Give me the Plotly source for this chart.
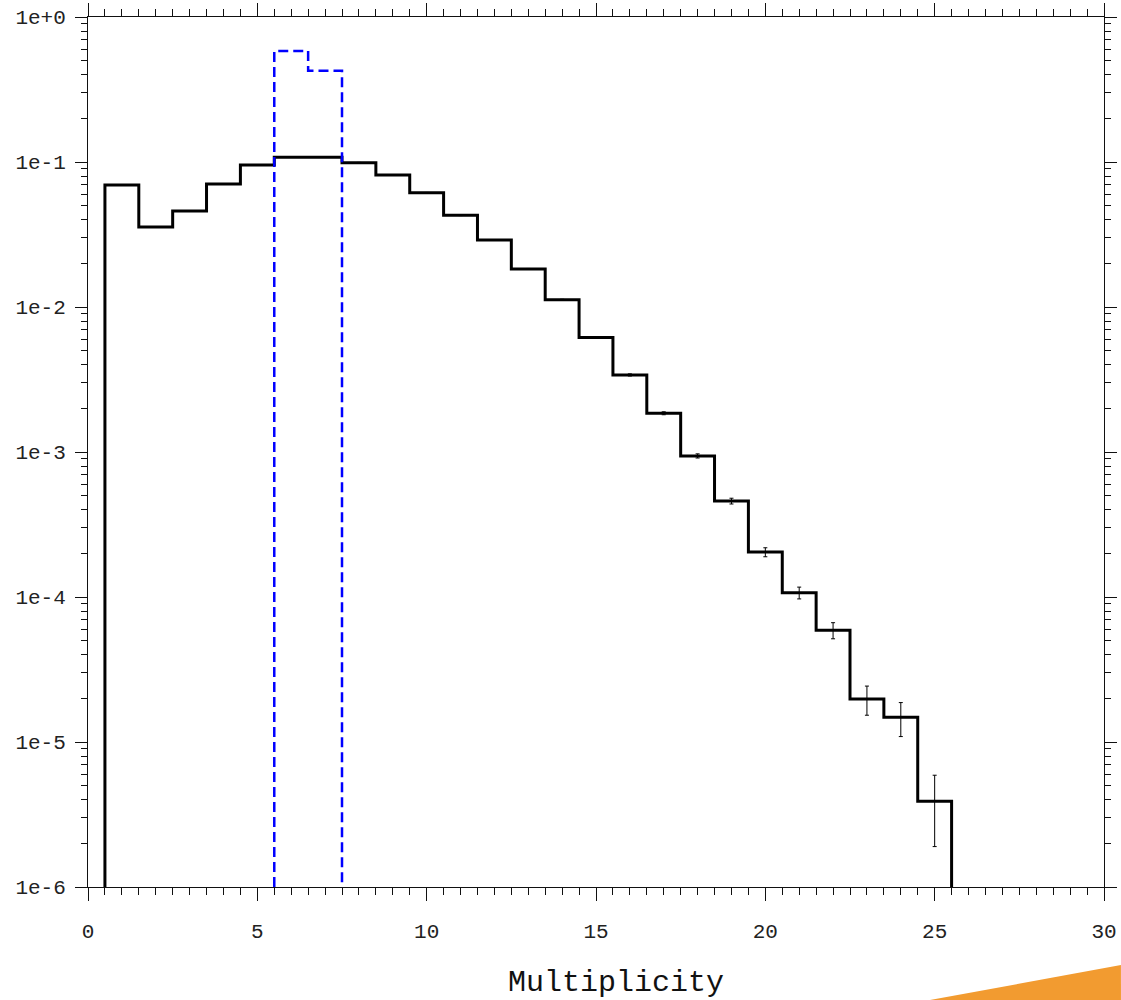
import plotly.graph_objects as go

# ---- data ----
bin_centers = list(range(1, 26))
black_values = [0.0694, 0.0356, 0.046, 0.0705, 0.0953, 0.108, 0.108, 0.099, 0.0813,
                0.0614, 0.0429, 0.0290, 0.0183, 0.0112, 0.00615, 0.0034, 0.00185,
                0.00094, 0.000459, 0.000204, 0.000107, 5.9e-5, 1.98e-5, 1.48e-5, 3.9e-6]
black_errors = [2.6e-4, 1.9e-4, 2.1e-4, 2.7e-4, 3.1e-4, 3.3e-4, 3.3e-4, 3.2e-4, 2.9e-4,
                2.5e-4, 2.1e-4, 1.7e-4, 1.35e-4, 1.06e-4, 7.8e-5, 5.8e-5, 4.3e-5,
                3.1e-5, 2.1e-5, 1.45e-5, 1.0e-5, 7.5e-6, 4.5e-6, 3.9e-6, 2.0e-6]
blue_centers = [6, 7]
blue_values = [0.583, 0.426]

x_tick_vals = [0, 5, 10, 15, 20, 25, 30]
x_tick_text = ["0", "5", "10", "15", "20", "25", "30"]
y_tick_vals = [1e-6, 1e-5, 1e-4, 1e-3, 1e-2, 1e-1, 1]
y_tick_text = ["1e-6", "1e-5", "1e-4", "1e-3", "1e-2", "1e-1", "1e+0"]
x_title = "Multiplicity"
y_floor = 1e-6
bin_width = 1.0


def step_xy(centers, values, floor):
    edges = [c - bin_width / 2 for c in centers] + [centers[-1] + bin_width / 2]
    xs = [edges[0]] + edges[:-1] + [edges[-1]]
    ys = [floor] + list(values) + [floor]
    return xs, ys


fig = go.Figure()

bx, by = step_xy(bin_centers, black_values, y_floor)
fig.add_trace(go.Scatter(x=bx, y=by, mode="lines", line=dict(color="black", width=3, shape="hv"),
                         showlegend=False, hoverinfo="skip"))
fig.add_trace(go.Scatter(x=bin_centers, y=black_values, mode="markers",
                         marker=dict(size=1, color="rgba(0,0,0,0)"),
                         error_y=dict(type="data", array=black_errors, visible=True,
                                      color="black", thickness=1, width=2),
                         showlegend=False))

ux, uy = step_xy(blue_centers, blue_values, y_floor)
fig.add_trace(go.Scatter(x=ux, y=uy, mode="lines",
                         line=dict(color="#0000ff", width=2.5, shape="hv", dash="10px,5px"),
                         showlegend=False, hoverinfo="skip"))

mono = "Liberation Mono, DejaVu Sans Mono, monospace"

fig.update_xaxes(range=[0, 30], tickmode="array", tickvals=x_tick_vals, ticktext=x_tick_text,
                 ticks="outside", ticklen=13, tickwidth=1, tickcolor="#111",
                 showline=True, linecolor="#111", linewidth=1, mirror="ticks",
                 showgrid=False, zeroline=False, ticklabelstandoff=12, automargin=False,
                 tickfont=dict(family=mono, size=21, color="#222"),
                 minor=dict(dtick=0.5, ticks="outside", ticklen=7, tickwidth=1,
                            tickcolor="#111", showgrid=False))
fig.update_yaxes(type="log", range=[-6, 0], tickmode="array", tickvals=y_tick_vals,
                 ticktext=y_tick_text, ticks="outside", ticklen=12, tickwidth=1,
                 tickcolor="#111", showline=True, linecolor="#111", linewidth=1,
                 mirror="ticks", showgrid=False, zeroline=False, ticklabelstandoff=5,
                 automargin=False,
                 tickfont=dict(family=mono, size=21, color="#222"),
                 minor=dict(dtick="D1", ticks="outside", ticklen=6, tickwidth=1,
                            tickcolor="#111", showgrid=False))

fig.add_annotation(text=x_title, xref="paper", yref="paper", x=0.5197, y=-0.1105,
                   xanchor="center", yanchor="middle", showarrow=False,
                   font=dict(family=mono, size=30, color="#111"))

# decorative orange wedge at the bottom-right corner
fig.add_shape(type="path", xref="paper", yref="paper",
              path="M 0.8287 -0.1299 L 1.0167 -0.0897 L 1.0167 -0.1299 Z",
              fillcolor="#F29B30", line=dict(width=0), layer="above")

fig.update_layout(width=1121, height=1000, margin=dict(l=88, r=17, t=17, b=113),
                  plot_bgcolor="white", paper_bgcolor="white", showlegend=False)

# remove the default 8px page margin so the figure fills the 1121x1000 window exactly
fig.write_html("out.html", config={"displayModeBar": False},
               post_script="document.body.style.margin='0';document.body.style.overflow='hidden';")
